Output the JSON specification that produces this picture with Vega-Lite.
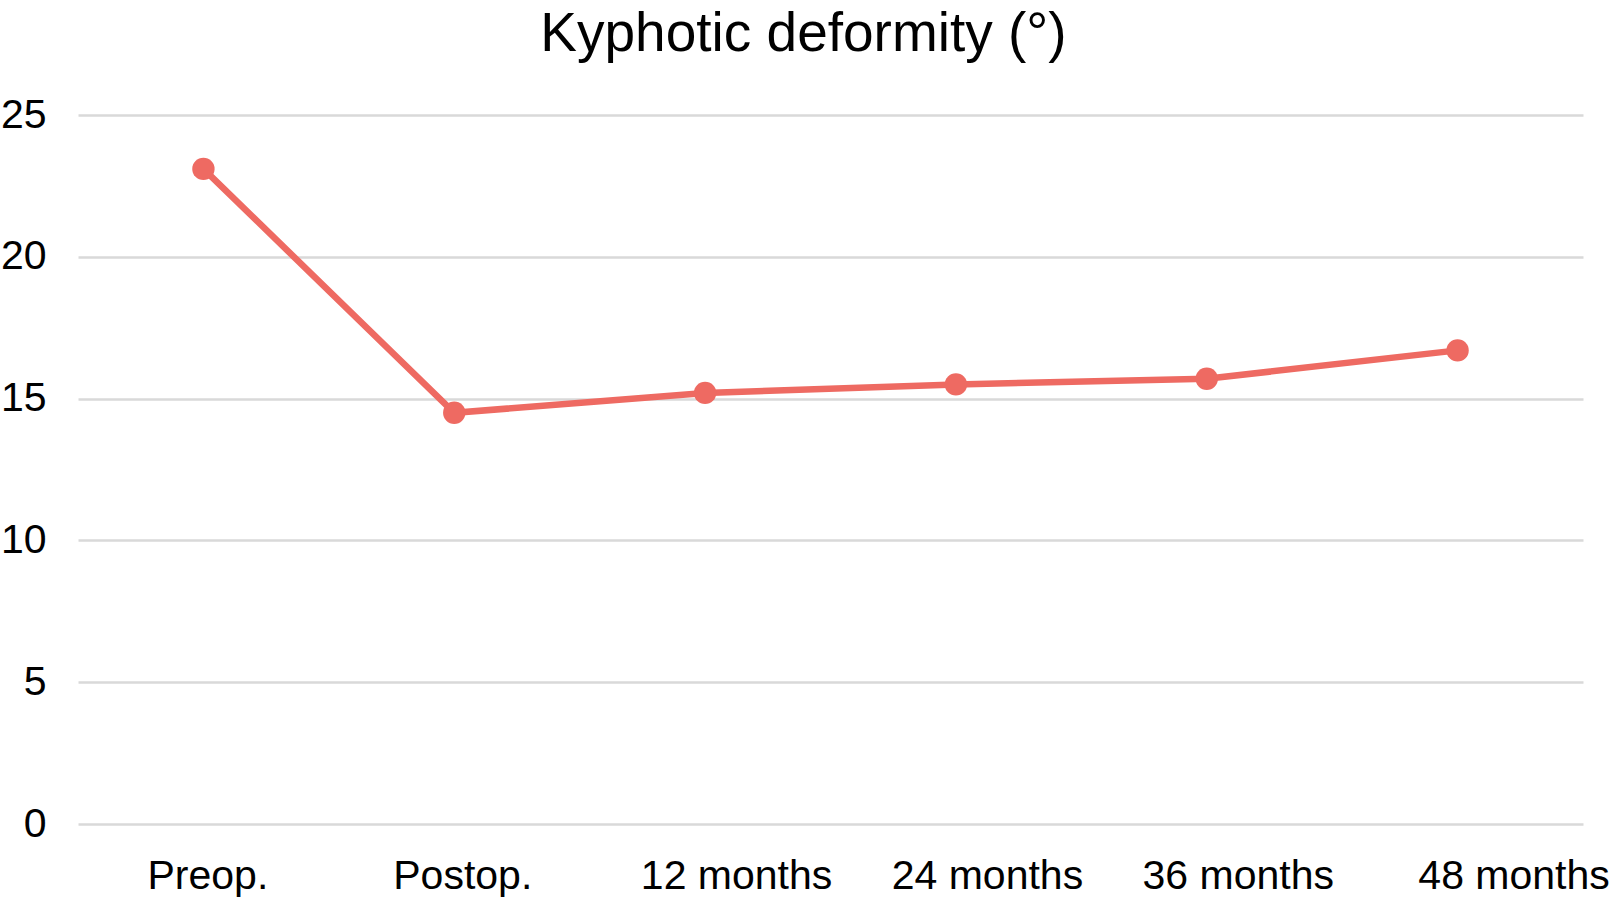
{
  "$schema": "https://vega.github.io/schema/vega-lite/v6.json",
  "autosize": "none",
  "width": 1505,
  "height": 709,
  "padding": {"left": 78, "top": 115, "right": 31, "bottom": 74},
  "background": "white",
  "title": {
    "text": "Kyphotic deformity (°)",
    "font": "Liberation Sans",
    "fontSize": 55,
    "fontWeight": "normal",
    "color": "black",
    "anchor": "middle",
    "frame": "group",
    "dx": -27,
    "offset": 31
  },
  "config": {
    "view": {"stroke": null},
    "font": "Liberation Sans"
  },
  "data": {
    "values": [
      {"time": "Preop.", "value": 23.1},
      {"time": "Postop.", "value": 14.5},
      {"time": "12 months", "value": 15.2},
      {"time": "24 months", "value": 15.5},
      {"time": "36 months", "value": 15.7},
      {"time": "48 months", "value": 16.7}
    ]
  },
  "encoding": {
    "x": {
      "field": "time",
      "type": "ordinal",
      "sort": null,
      "title": null,
      "axis": {
        "labelAngle": 0,
        "labelFont": "Liberation Sans",
        "labelFontSize": 41,
        "labelColor": "black",
        "labelBaseline": "alphabetic",
        "labelPadding": 64,
        "labelLimit": 0,
        "labelOverlap": false,
        "labelBound": false,
        "ticks": false,
        "domain": false,
        "grid": false,
        "labelOffset": {
          "condition": [
            {"test": "datum.value === 'Preop.'", "value": 4},
            {"test": "datum.value === 'Postop.'", "value": 8},
            {"test": "datum.value === '48 months'", "value": 56}
          ],
          "value": 31
        }
      }
    },
    "y": {
      "field": "value",
      "type": "quantitative",
      "scale": {"domain": [0, 25], "nice": false},
      "title": null,
      "axis": {
        "values": [0, 5, 10, 15, 20, 25],
        "labelFont": "Liberation Sans",
        "labelFontSize": 41,
        "labelColor": "black",
        "labelPadding": 32,
        "ticks": false,
        "domain": false,
        "grid": true,
        "gridColor": "#D9D9D9",
        "gridWidth": 2.5
      }
    }
  },
  "mark": {
    "type": "line",
    "color": "#EE6A62",
    "strokeWidth": 6.5,
    "point": {"filled": true, "size": 500, "color": "#EE6A62", "opacity": 1}
  }
}
